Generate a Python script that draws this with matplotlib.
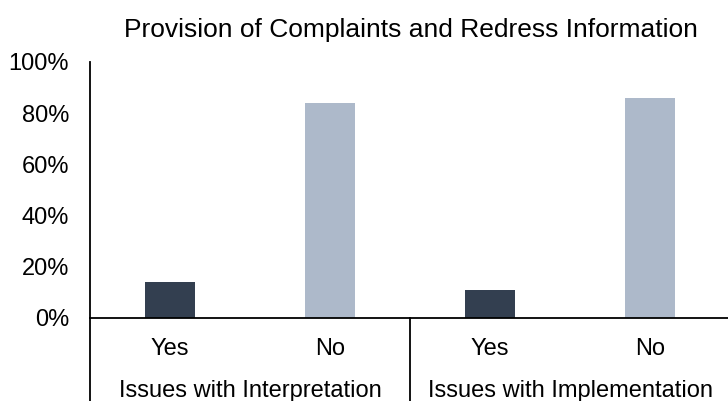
import matplotlib
matplotlib.use("Agg")
import matplotlib.pyplot as plt
from matplotlib.lines import Line2D

title = "Provision of Complaints and Redress Information"
groups = ["Issues with Interpretation", "Issues with Implementation"]
answers = ["Yes", "No"]
values = [14, 84, 11, 86]
yticks = [0, 20, 40, 60, 80, 100]
colors = ["#333F50", "#ADB9CA"]

plt.rcParams['font.family'] = ['Liberation Sans', 'DejaVu Sans']

fig = plt.figure(figsize=(7.28, 4.01), dpi=100)
ax = fig.add_axes([90/728, 1-318/401, 640/728, (318-62)/401])

n = len(values)
xs = list(range(n))
bar_colors = [colors[i % 2] for i in range(n)]
ax.bar(xs, values, width=0.31, color=bar_colors)

fs = 17
ax.set_xlim(-0.5, n - 0.5)
ax.set_ylim(0, 100)
ax.set_yticks(yticks)
ax.set_yticklabels([f"{v}%" for v in yticks], fontsize=fs)
ax.tick_params(axis='y', length=0, pad=15)
ax.set_xticks([])
for s in ['top', 'right']:
    ax.spines[s].set_visible(False)
ax.spines['left'].set_linewidth(1.3)
ax.spines['bottom'].set_linewidth(1.3)
ax.spines['left'].set_color('black')
ax.spines['bottom'].set_color('black')

trans = ax.get_xaxis_transform()
h = 318 - 62
y_fig_bottom = -(401 - 318) / h
for i, v in enumerate(values):
    ax.text(i, -(355 - 318) / h, answers[i % 2], ha='center', va='baseline',
            fontsize=fs, transform=trans)
for g, name in enumerate(groups):
    ax.text(2*g + 0.5, -(397 - 318) / h, name, ha='center', va='baseline',
            fontsize=fs, transform=trans)
for xb in [-0.5, 1.5, 3.5]:
    ax.add_line(Line2D([xb, xb], [0, y_fig_bottom], transform=trans, color='black',
                       linewidth=1.3, clip_on=False))

fig.text(411/728, 1-37/401, title, ha='center', va='baseline', fontsize=19)

fig.savefig("out.png", dpi=100)
